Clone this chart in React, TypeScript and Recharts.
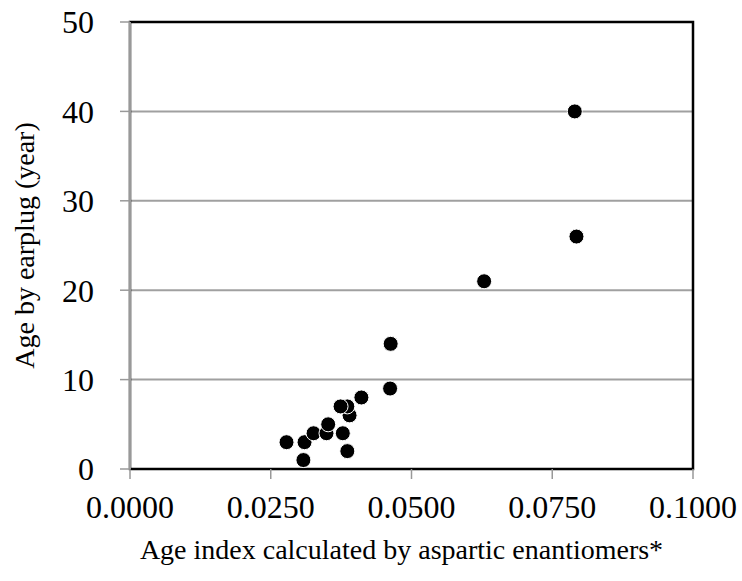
import { ScatterChart, Scatter, XAxis, YAxis, CartesianGrid, ReferenceArea } from 'recharts'

// age index (aspartic enantiomers) vs age by earplug
const ageIndex = [0.0278, 0.031, 0.0308, 0.0326, 0.0349, 0.0352, 0.0378, 0.0386, 0.039, 0.0386, 0.0374, 0.0411, 0.0462, 0.0463, 0.0629, 0.079, 0.0793]
const earplugAge = [3, 3, 1, 4, 4, 5, 4, 2, 6, 7, 7, 8, 9, 14, 21, 40, 26]
const xTicks = [0, 0.025, 0.05, 0.075, 0.1]
const yTicks = [0, 10, 20, 30, 40, 50]

const FONT = '"Liberation Serif", "Times New Roman", serif'

const points = ageIndex.map((x, i) => ({ x, y: earplugAge[i] }))

const Dot = (props: any) => {
  const { cx, cy } = props
  return <circle cx={cx} cy={cy} r={7.5} fill="#000" stroke="#fff" strokeWidth={1} />
}

export default function App() {
  return (
    <div style={{ position: 'absolute', left: 0, top: 0, background: '#fff' }}>
      <ScatterChart width={742} height={581} margin={{ top: 22, right: 49, left: 0, bottom: 42 }}>
        <CartesianGrid horizontal vertical={false} stroke="#a0a0a0" strokeWidth={2} />
        <ReferenceArea x1={0} x2={0.1} y1={0} y2={50} fill="none" stroke="#000" strokeWidth={2.5} ifOverflow="visible" />
        <XAxis
          type="number"
          dataKey="x"
          domain={[0, 0.1]}
          ticks={xTicks}
          tickFormatter={(v: number) => v.toFixed(4)}
          height={70}
          tickSize={10}
          tickMargin={16}
          axisLine={{ stroke: '#000', strokeWidth: 2 }}
          tickLine={{ stroke: '#999', strokeWidth: 1.5 }}
          tick={{ fill: '#000', fontSize: 32, fontFamily: FONT }}
          label={{ value: 'Age index calculated by aspartic enantiomers*', position: 'insideBottom', offset: -20, dx: -10, fill: '#000', fontSize: 28, fontFamily: FONT }}
        />
        <YAxis
          type="number"
          dataKey="y"
          domain={[0, 50]}
          ticks={yTicks}
          width={130}
          tickSize={10}
          tickMargin={26}
          axisLine={{ stroke: '#999', strokeWidth: 2 }}
          tickLine={{ stroke: '#999', strokeWidth: 1.5 }}
          tick={{ fill: '#000', fontSize: 32, fontFamily: FONT }}
          label={{ value: 'Age by earplug (year)', angle: -90, position: 'insideLeft', offset: 24, fill: '#000', fontSize: 28, fontFamily: FONT, style: { textAnchor: 'middle' } }}
        />
        <Scatter data={points} shape={<Dot />} isAnimationActive={false} />
      </ScatterChart>
    </div>
  )
}
